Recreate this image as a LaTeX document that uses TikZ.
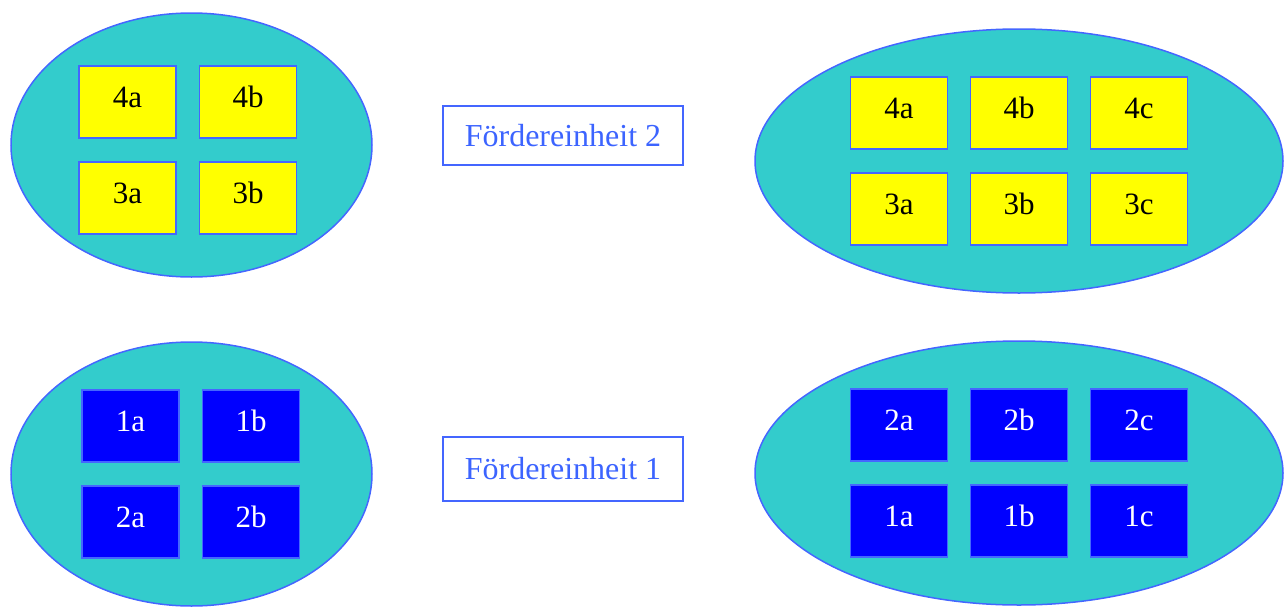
\documentclass[tikz,border=0pt]{standalone}
\usepackage{fontspec}
\setmainfont{Liberation Serif}
\usetikzlibrary{shapes.geometric}
\definecolor{cyanfill}{RGB}{51,204,204}
\definecolor{edgeblue}{RGB}{68,102,255}
\definecolor{labelblue}{RGB}{60,100,255}
\definecolor{boxyellow}{RGB}{255,255,0}
\definecolor{boxblue}{RGB}{0,0,255}
\tikzset{
  group/.style={ellipse, draw=edgeblue, fill=cyanfill, line width=1.5pt, inner sep=0pt},
  cell/.style={rectangle, draw=edgeblue, line width=1.5pt, minimum width=97pt, minimum height=72pt, inner sep=0pt, text height=22pt, text depth=11pt, font=\fontsize{31}{36}\selectfont},
  ybox/.style={cell, fill=boxyellow, text=black},
  bbox/.style={cell, fill=boxblue, text=white},
  unitlabel/.style={rectangle, draw=edgeblue, fill=white, line width=2pt, minimum width=240pt, inner sep=0pt, font=\fontsize{32}{37}\selectfont, text=labelblue},
}
\begin{document}
\begin{tikzpicture}[x=1pt,y=-1pt]
\useasboundingbox (0,0) rectangle (1286,608);
% ellipses
\node[group, minimum width=361pt, minimum height=264pt] (tl) at (191.5,145) {};
\node[group, minimum width=528pt, minimum height=264pt] (tr) at (1019,161) {};
\node[group, minimum width=361pt, minimum height=264pt] (bl) at (191.5,474) {};
\node[group, minimum width=528pt, minimum height=264pt] (br) at (1019,473) {};
% top-left boxes
\node[ybox] (tl4a) at (127.5,102) {4a};
\node[ybox] (tl4b) at (248,102) {4b};
\node[ybox] (tl3a) at (127.5,198) {3a};
\node[ybox] (tl3b) at (248,198) {3b};
% top-right boxes
\node[ybox] (tr4a) at (899,113) {4a};
\node[ybox] (tr4b) at (1019,113) {4b};
\node[ybox] (tr4c) at (1139,113) {4c};
\node[ybox] (tr3a) at (899,209) {3a};
\node[ybox] (tr3b) at (1019,209) {3b};
\node[ybox] (tr3c) at (1139,209) {3c};
% bottom-left boxes
\node[bbox] (bl1a) at (130.5,426) {1a};
\node[bbox] (bl1b) at (251,426) {1b};
\node[bbox] (bl2a) at (130.5,522) {2a};
\node[bbox] (bl2b) at (251,522) {2b};
% bottom-right boxes
\node[bbox] (br2a) at (899,425) {2a};
\node[bbox] (br2b) at (1019,425) {2b};
\node[bbox] (br2c) at (1139,425) {2c};
\node[bbox] (br1a) at (899,521) {1a};
\node[bbox] (br1b) at (1019,521) {1b};
\node[bbox] (br1c) at (1139,521) {1c};
% labels
\node[unitlabel, minimum height=59pt] (fe2) at (563,135.5) {Fördereinheit 2};
\node[unitlabel, minimum height=64pt] (fe1) at (563,469) {Fördereinheit 1};
\end{tikzpicture}
\end{document}
